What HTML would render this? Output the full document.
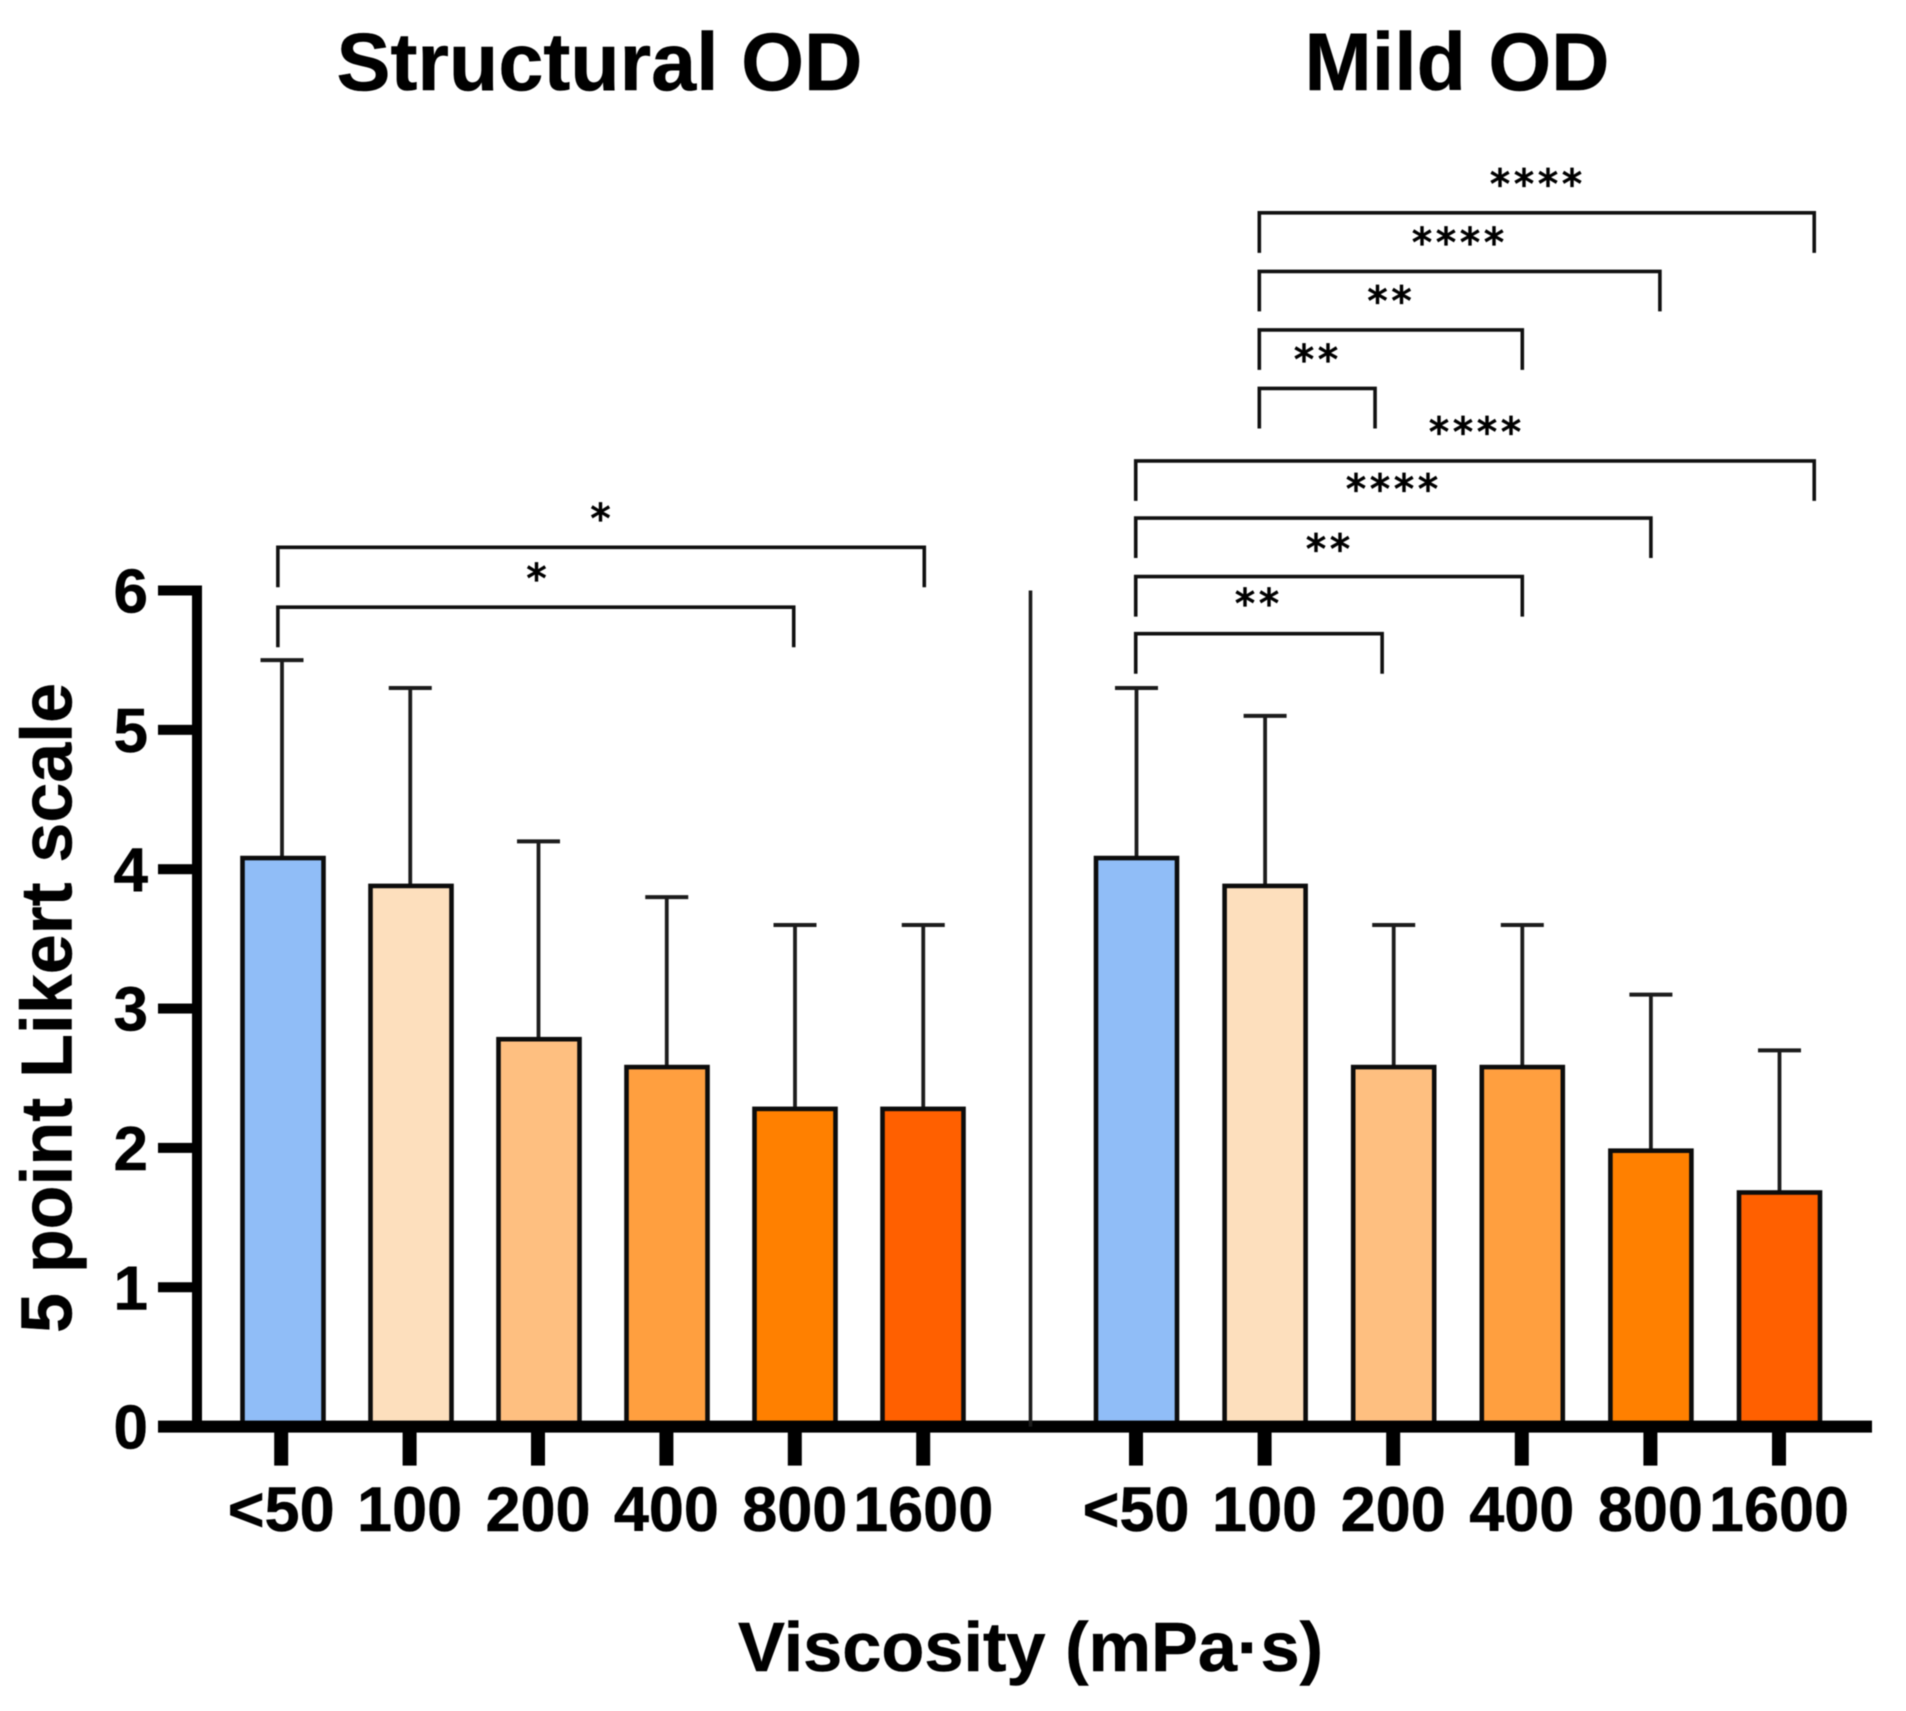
<!DOCTYPE html>
<html lang="en">
<head>
<meta charset="utf-8">
<title>Structural and Mild OD Likert ratings by viscosity</title>
<style>
html,body{margin:0;padding:0;background:#fff;}
svg{display:block;filter:blur(.6px);}
text{font-family:"Liberation Sans",Arial,sans-serif;font-weight:bold;fill:#000;stroke:#000;stroke-width:.5px;}
.stars{font-family:"DejaVu Sans",sans-serif;font-weight:normal;font-size:40px;letter-spacing:4px;stroke-width:1.2px;}
</style>
</head>
<body>
<svg id="chart" xmlns="http://www.w3.org/2000/svg" width="1906" height="1711" viewBox="0 0 1906 1711">
  <rect x="0" y="0" width="1906" height="1711" fill="#fff"/>
  <text x="599.5" y="90" text-anchor="middle" font-size="82" textLength="526" lengthAdjust="spacingAndGlyphs">Structural OD</text>
  <text x="1457" y="90" text-anchor="middle" font-size="82" textLength="305" lengthAdjust="spacingAndGlyphs">Mild OD</text>
  <text transform="translate(71.5 1008) rotate(-90)" text-anchor="middle" font-size="72" textLength="650" lengthAdjust="spacingAndGlyphs">5 point Likert scale</text>
  <text x="1030.5" y="1671" text-anchor="middle" font-size="70" textLength="585" lengthAdjust="spacingAndGlyphs">Viscosity (mPa·s)</text>
</svg>
<script>
const categories = ["<50", "100", "200", "400", "800", "1600"];
const structuralMeans = [4.08, 3.88, 2.78, 2.58, 2.28, 2.28];
const structuralUpper = [5.5, 5.3, 4.2, 3.8, 3.6, 3.6];
const mildMeans = [4.08, 3.88, 2.58, 2.58, 1.98, 1.68];
const mildUpper = [5.3, 5.1, 3.6, 3.6, 3.1, 2.7];
const yTicks = [0, 1, 2, 3, 4, 5, 6];
const barColors = ["#90bdf7", "#fddfbd", "#febf80", "#ff9f3f", "#ff8000", "#ff6000"];

/* significance brackets: category span, height on the y scale */
const structuralBracketFrom = [-0.04, -0.04];
const structuralBracketTo = [5.01, 3.99];
const structuralBracketLevel = [6.31, 5.88];
const structuralStars = ["*", "*"];
const structuralStarCat = [2.48, 1.98];
const structuralStarLevel = [6.56, 6.13];

const mildBracketFrom = [0.955, 0.955, 0.955, 0.955, -0.006, -0.006, -0.006, -0.006];
const mildBracketTo = [5.27, 4.07, 3.0, 1.855, 5.27, 4.0, 3.0, 1.91];
const mildBracketLevel = [8.71, 8.29, 7.87, 7.45, 6.93, 6.52, 6.10, 5.69];
const mildStars = ["****", "****", "**", "**", "****", "****", "**", "**"];
const mildStarCat = [3.107, 2.5, 1.967, 1.396, 2.632, 1.987, 1.489, 0.937];
const mildStarLevel = [8.96, 8.54, 8.12, 7.70, 7.18, 6.77, 6.34, 5.95];

const svg = document.getElementById('chart');
const NS = 'http://www.w3.org/2000/svg';

function yScale(v) { return 1426.6 - v * 139.35; }
function xStructural(c) { return 283 + 128 * c; }
function xStructuralErr(c) { return 282 + 128.25 * c; }
function xStructuralTick(c) { return 281.2 + 128.4 * c; }
function xMild(c) { return 1136.5 + 128.6 * c; }
function xMildTick(c) { return 1136 + 128.6 * c; }

function make(tag, props) {
  const el = document.createElementNS(NS, tag);
  for (const k in props) el.setAttribute(k, props[k]);
  svg.appendChild(el);
  return el;
}

function drawPanel(panel, xScale, xErr, xTick, means, upper) {
  categories.forEach(function (cat, i) {
    const cx = xScale(i);
    const ex = xErr(i);
    const tx = xTick(i);
    const err = make('line', { x1: ex, x2: ex, y1: yScale(means[i]), y2: yScale(upper[i]), stroke: '#1c1c1c', 'stroke-width': 3.8 });
    
    
    const cap = make('line', { x1: ex - 21.5, x2: ex + 21.5, y1: yScale(upper[i]), y2: yScale(upper[i]), stroke: '#1c1c1c', 'stroke-width': 4 });
    
    
    const bar = make('rect', { x: cx - 40.5, y: yScale(means[i]), width: 81, height: yScale(0) - yScale(means[i]), fill: barColors[i], stroke: '#0c0c0c', 'stroke-width': 4.6 });
    
    
    const tick = make('rect', { x: tx - 7, y: yScale(0), width: 14, height: 39, fill: '#000' });
    
    
    const label = make('text', { x: tx, y: 1531, 'text-anchor': 'middle', 'font-size': 63 });
    label.textContent = cat;
    
    
  });
}

function drawBrackets(panel, xScale, from, to, level, stars, starCat, starLevel) {
  from.forEach(function (f, i) {
    const x1 = xScale(f), x2 = xScale(to[i]), y = yScale(level[i]);
    const b = make('path', { d: 'M' + x1 + ' ' + (y + 40) + 'V' + y + 'H' + x2 + 'V' + (y + 40), fill: 'none', stroke: '#111', 'stroke-width': 3.6 });
    
    
    const s = make('text', { x: xScale(starCat[i]) + 2, y: yScale(starLevel[i]) + 20, 'text-anchor': 'middle', 'class': 'stars' });
    s.textContent = stars[i];
    
    
  });
}

drawPanel('structural', xStructural, xStructuralErr, xStructuralTick, structuralMeans, structuralUpper);
drawPanel('mild', xMild, xMild, xMildTick, mildMeans, mildUpper);
drawBrackets('structural', xStructural, structuralBracketFrom, structuralBracketTo, structuralBracketLevel, structuralStars, structuralStarCat, structuralStarLevel);
drawBrackets('mild', xMild, mildBracketFrom, mildBracketTo, mildBracketLevel, mildStars, mildStarCat, mildStarLevel);

yTicks.forEach(function (t) {
  const tick = make('rect', { x: 158, y: yScale(t) - 5, width: 36, height: 10, fill: '#000' });
  
  
  const label = make('text', { x: 148, y: yScale(t) + 22, 'text-anchor': 'end', 'font-size': 62 });
  label.textContent = String(t);
  
  
});

const yAxis = make('rect', { x: 192, y: yScale(6) - 5, width: 10, height: yScale(0) - yScale(6) + 5, fill: '#000' });



const xAxis = make('rect', { x: 158, y: yScale(0) - 6, width: 1714, height: 12, fill: '#000' });



const divider = make('line', { x1: 1030.5, x2: 1030.5, y1: yScale(6), y2: yScale(0), stroke: '#1c1c1c', 'stroke-width': 3.6 });


</script>
</body>
</html>
